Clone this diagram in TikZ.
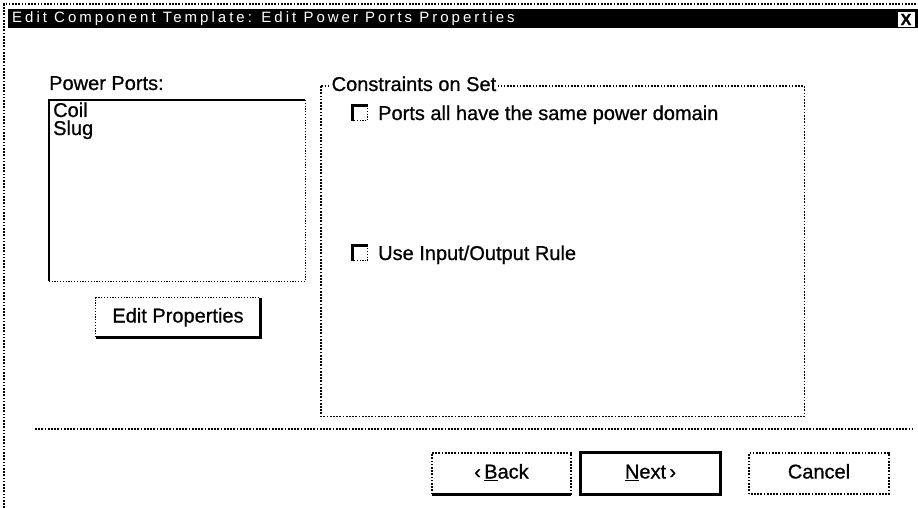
\documentclass[tikz,border=0pt]{standalone}
\usepackage{fontspec}
\setmainfont[FakeBold=0.8]{Liberation Sans}
\newfontfamily\titlefont[LetterSpace=20]{Liberation Sans}
\begin{document}
\begin{tikzpicture}[x=1pt,y=-1pt,
  every node/.style={inner sep=0pt, font=\fontsize{20}{24}\selectfont},
  txt/.style={anchor=base west},
  dotline/.style={line width=1.7pt, dash pattern=on 1.7pt off 1.5pt},
  thindots/.style={line width=1.2pt, dash pattern=on 1.2pt off 1.6pt},
  heavy/.style={line width=2.6pt},
  area/.style={anchor=north west, minimum width=#1},
  btn/.style={minimum width=139pt, minimum height=41pt, text height=14pt, text depth=4pt},
  checkbox/.style={minimum width=15pt, minimum height=15pt}
]
% page
\fill[white] (0,0) rectangle (918,508);
\useasboundingbox (0,0) rectangle (918,508);

% dialog frame
\coordinate (frameBL) at (4,508);
\coordinate (frameTL) at (4,4);
\coordinate (frameTR) at (918,4);
\draw[dotline] (frameBL) -- (frameTL) -- (frameTR);

% title bar
\node[area=910pt, minimum height=19pt, fill=black] (titlebar) at (8,9) {};
\node[anchor=west, text=white, font=\titlefont\fontsize{15}{18}\selectfont] (title) at (12,18.5)
  {Edit Component Template: Edit Power Ports Properties};
\node[fill=white, minimum width=17pt, minimum height=15pt,
      font=\bfseries\fontsize{16}{16}\selectfont] (close) at (906,19.5) {X};

% port list
\node[txt] (portslabel) at (49,90) {Power Ports:};
\node[area=256pt, minimum height=181pt] (list) at (49,100) {};
\draw[heavy] (list.south west) -- (list.north west) -- (list.north east);
\draw[thindots] (list.north east) -- (list.south east) -- (list.south west);
\node[txt] (coil) at (53,117) {Coil};
\node[txt] (slug) at (53,135) {Slug};

% edit properties button
\node[minimum width=164pt, minimum height=39pt, text height=14pt, text depth=4pt] (editprops) at (178,317.5) {Edit Properties};
\draw[thindots] (editprops.south west) -- (editprops.north west) -- (editprops.north east);
\draw[heavy] (editprops.north east) -- (editprops.south east) -- (editprops.south west);

% constraints group
\node[area=483pt, minimum height=330pt] (group) at (321,86) {};
\draw[dotline] (group.north west) rectangle (group.south east);
\node[txt, fill=white, inner xsep=1.5pt] (grouplabel) at (330,91) {Constraints on Set};

\node[checkbox] (cbdomain) at (360,113) {};
\draw[line width=2.5pt] (cbdomain.south west) -- (cbdomain.north west) -- (cbdomain.north east);
\draw[thindots] (cbdomain.north east) -- (cbdomain.south east) -- (cbdomain.south west);
\node[txt] (domain) at (378,120) {Ports all have the same power domain};

\node[checkbox] (cbrule) at (360,253) {};
\draw[line width=2.5pt] (cbrule.south west) -- (cbrule.north west) -- (cbrule.north east);
\draw[thindots] (cbrule.north east) -- (cbrule.south east) -- (cbrule.south west);
\node[txt] (rule) at (378,260) {Use Input/Output Rule};

% separator
\coordinate (sepL) at (35,429);
\coordinate (sepR) at (912,429);
\draw[dotline] (sepL) -- (sepR);

% wizard buttons
\node[btn] (back) at (501.5,473.5) {‹\,\underline{B}ack};
\draw[dotline] (back.south west) rectangle (back.north east);
\draw[heavy] (back.south west) -- (back.south east);
\node[btn] (next) at (650.5,473.5) {\underline{N}ext\,›};
\draw[line width=3pt] (next.south west) rectangle (next.north east);
\node[btn] (cancel) at (819,473.5) {Cancel};
\draw[dotline] (cancel.south west) rectangle (cancel.north east);
\end{tikzpicture}
\end{document}
